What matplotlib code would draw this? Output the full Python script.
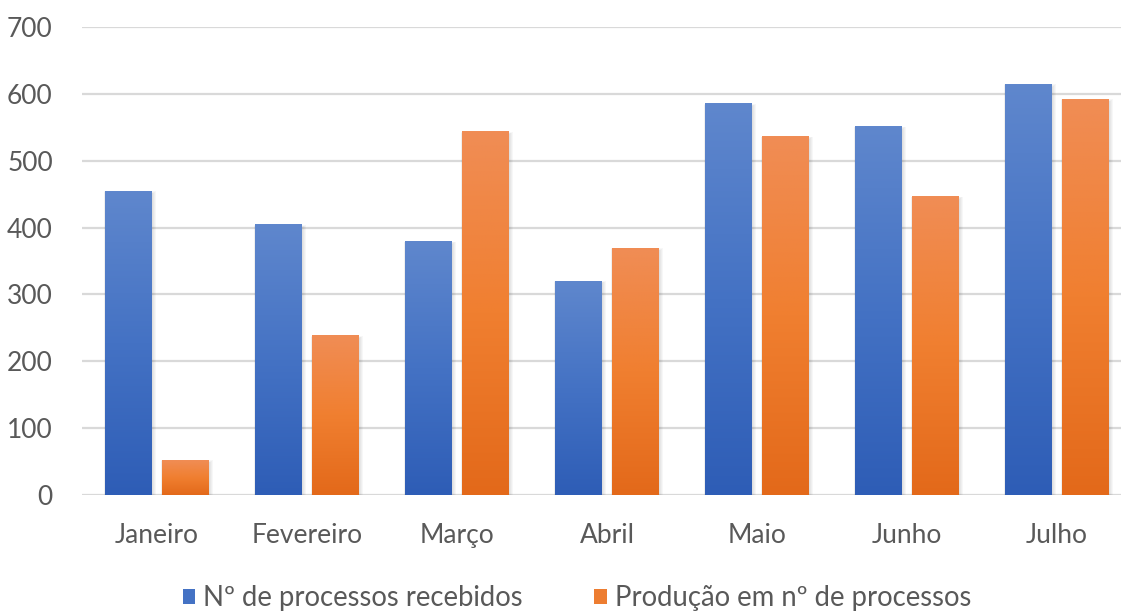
import numpy as np
import matplotlib
matplotlib.use("Agg")
import matplotlib.pyplot as plt
from matplotlib.colors import LinearSegmentedColormap
from matplotlib.patches import Rectangle, Patch

# ---------- dados ----------
meses = ["Janeiro", "Fevereiro", "Março", "Abril", "Maio", "Junho", "Julho"]
recebidos = [454, 404, 379, 320, 585, 551, 614]
producao = [52, 238, 543, 369, 536, 446, 592]
series_nomes = ["Nº de processos recebidos", "Produção em nº de processos"]

# ---------- estilo ----------
plt.rcParams["font.family"] = ["Lato", "DejaVu Sans"]
cinza = "#595959"
azul = LinearSegmentedColormap.from_list("azul", ["#2E5DB6", "#4472C4", "#5F87CD"])
laranja = LinearSegmentedColormap.from_list("laranja", ["#E3691A", "#F07F30", "#F08D55"])

W, H = 1121, 612
fig = plt.figure(figsize=(W / 100, H / 100), dpi=100)
ax = fig.add_axes([82 / W, 117 / H, 1050 / W, 468 / H])

larg = 0.307
desl = 0.19
x = np.arange(len(meses))
grad = np.linspace(0, 1, 256).reshape(-1, 1)


def barra(xc, h, cmap):
    x0, x1 = xc - larg / 2, xc + larg / 2
    # sombra suave, sobretudo para a direita
    for k in range(5):
        s = 0.005 * (k + 1)
        ax.add_patch(Rectangle((x0 - s / 3, 0), (x1 - x0) + s * 1.6, h - 4 + k,
                               facecolor="black", alpha=0.03, lw=0, zorder=2))
    ax.imshow(grad, cmap=cmap, origin="lower", aspect="auto",
              extent=[x0, x1, 0, h], zorder=3, interpolation="bilinear")


for i in range(len(meses)):
    barra(x[i] - desl, recebidos[i], azul)
    barra(x[i] + desl, producao[i], laranja)

ax.set_xlim(-0.5, 6.5)
ax.set_ylim(0, 700)
ax.set_yticks(range(0, 701, 100))
ax.set_xticks(x)
ax.set_xticklabels(meses)
ax.grid(axis="y", color="#D9D9D9", lw=1.6, zorder=0)
ax.set_axisbelow(True)
for sp in ax.spines.values():
    sp.set_visible(False)
ax.tick_params(axis="both", length=0, labelsize=19, labelcolor=cinza)
ax.tick_params(axis="y", pad=21)
ax.tick_params(axis="x", pad=20)

handles = [Patch(facecolor="#4472C4"), Patch(facecolor="#ED7D31")]
fig.legend(handles, series_nomes, loc="center", bbox_to_anchor=(577 / W, 1 - 598 / H),
           ncol=2, frameon=False, fontsize=19.8, labelcolor=cinza,
           handlelength=0.45, handleheight=0.45, handletextpad=0.3, columnspacing=2.6)

fig.savefig("out.png", dpi=100)
